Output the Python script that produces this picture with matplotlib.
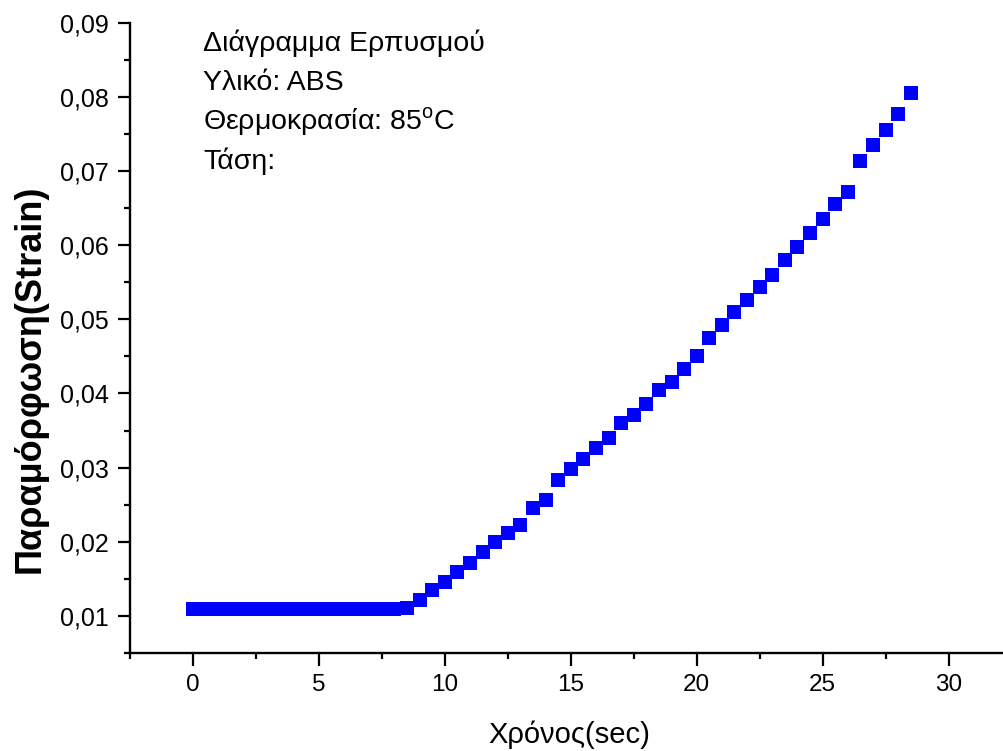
import matplotlib
matplotlib.use('Agg')
import matplotlib.pyplot as plt
from matplotlib.ticker import MultipleLocator, FuncFormatter

plt.rcParams['font.family'] = ['Liberation Sans', 'DejaVu Sans']
plt.rcParams['mathtext.fontset'] = 'custom'
plt.rcParams['mathtext.rm'] = 'Liberation Sans'

# creep test readings, every half second
time_sec = [0.0, 0.5, 1.0, 1.5, 2.0, 2.5, 3.0, 3.5, 4.0, 4.5, 5.0, 5.5,
            6.0, 6.5, 7.0, 7.5, 8.0, 8.5, 9.0, 9.5, 10.0, 10.5, 11.0, 11.5,
            12.0, 12.5, 13.0, 13.5, 14.0, 14.5, 15.0, 15.5, 16.0, 16.5, 17.0,
            17.5, 18.0, 18.5, 19.0, 19.5, 20.0, 20.5, 21.0, 21.5, 22.0, 22.5,
            23.0, 23.5, 24.0, 24.5, 25.0, 25.5, 26.0, 26.5, 27.0, 27.5, 28.0,
            28.5]
strain = [0.0109, 0.0109, 0.0109, 0.0109, 0.0109, 0.0109, 0.0109, 0.0109,
          0.0109, 0.0109, 0.0109, 0.0109, 0.0109, 0.0109, 0.0109, 0.0109,
          0.0110, 0.0111, 0.0121, 0.0135, 0.0146, 0.0159, 0.0171, 0.0186,
          0.0200, 0.0212, 0.0223, 0.0245, 0.0257, 0.0283, 0.0298, 0.0312,
          0.0326, 0.0340, 0.0360, 0.0371, 0.0386, 0.0404, 0.0416, 0.0433,
          0.0450, 0.0475, 0.0492, 0.0510, 0.0526, 0.0544, 0.0560, 0.0580,
          0.0597, 0.0617, 0.0635, 0.0655, 0.0672, 0.0713, 0.0735, 0.0755,
          0.0777, 0.0805]

info_lines = ['Διάγραμμα Ερπυσμού',
              'Υλικό: ABS',
              'Θερμοκρασία: 85$^{\\mathregular{o}}$C',
              'Τάση:']

W, H = 1004, 751
fig = plt.figure(figsize=(W / 100, H / 100), dpi=100)
ax = fig.add_axes([130 / W, 98 / H, 874 / W, 630.3 / H])

ax.plot(time_sec, strain, 's', color='#0000ff', markersize=9.6,
        markeredgewidth=0, clip_on=False)

ax.set_xlim(-2.5, 32.2)
ax.set_ylim(0.005, 0.09)

ax.spines['top'].set_visible(False)
ax.spines['right'].set_visible(False)
for s in ('left', 'bottom'):
    ax.spines[s].set_linewidth(1.7)

ax.xaxis.set_major_locator(MultipleLocator(5))
ax.xaxis.set_minor_locator(MultipleLocator(2.5))
ax.yaxis.set_major_locator(MultipleLocator(0.01))
ax.yaxis.set_minor_locator(MultipleLocator(0.005))
ax.yaxis.set_major_formatter(FuncFormatter(lambda v, p: f'{v:.2f}'.replace('.', ',')))

ax.tick_params(which='major', direction='out', length=9, width=1.6)
ax.tick_params(which='minor', direction='out', length=4.5, width=1.6)
ax.tick_params(axis='x', which='major', labelsize=17.5, pad=6)
ax.tick_params(axis='y', which='major', labelsize=18, pad=6)

fig.text(569 / W, 1 - 735 / H, 'Χρόνος(sec)', fontsize=21, ha='center', va='center')
fig.text(30 / W, 1 - 379 / H, 'Παραμόρφωση(Strain)', fontsize=26, fontweight='bold',
         rotation=90, ha='center', va='center')

# text block in the upper left, one line every ~40 px
baselines = [51, 90, 130, 169]
for txt, b in zip(info_lines, baselines):
    fig.text(203 / W, 1 - b / H, txt, fontsize=20.5, ha='left', va='baseline')

fig.savefig('out.png', dpi=100)
